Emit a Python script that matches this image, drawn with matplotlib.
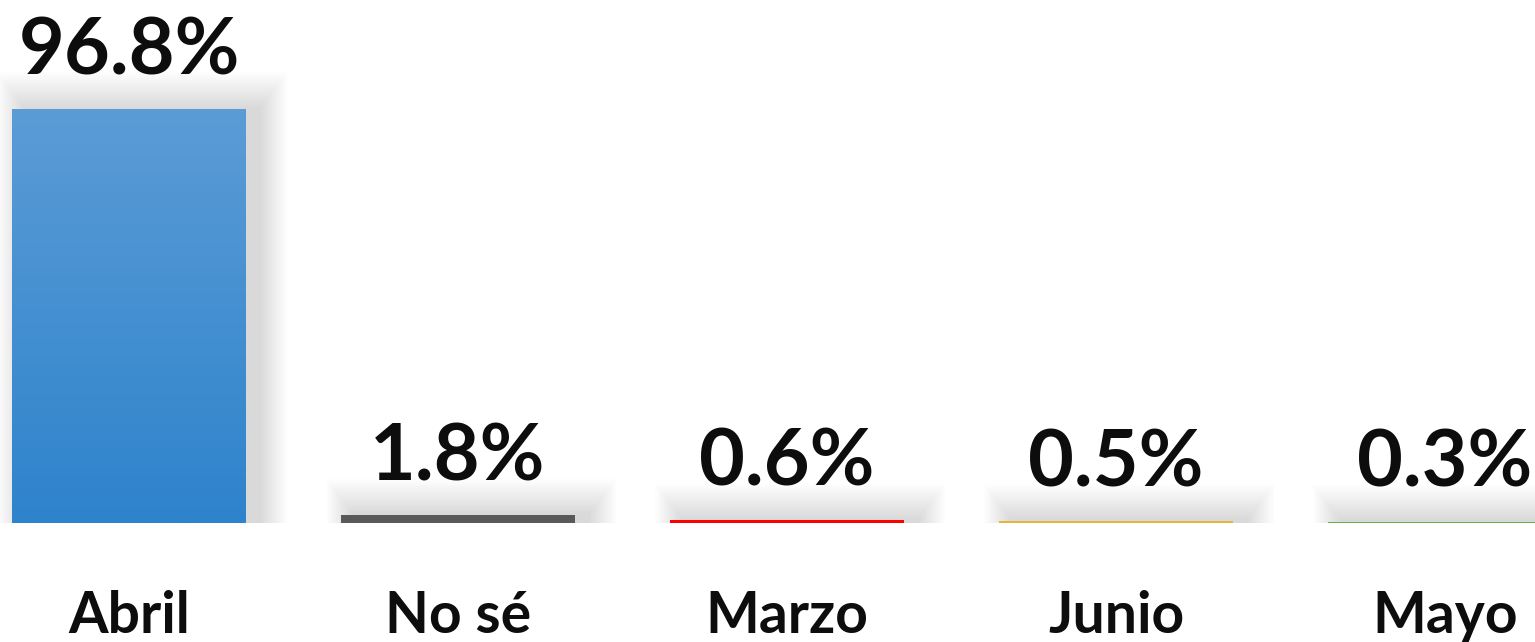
import numpy as np
import matplotlib.pyplot as plt
import matplotlib.transforms as mtransforms
from matplotlib.colors import LinearSegmentedColormap

plt.rcParams['font.family'] = ['Lato', 'DejaVu Sans']

# data
categories = ['Abril', 'No sé', 'Marzo', 'Junio', 'Mayo']
values = [96.8, 1.8, 0.6, 0.5, 0.3]
labels = ['96.8%', '1.8%', '0.6%', '0.5%', '0.3%']
colors = ['#4a90d4', '#595959', '#ff0000', '#e8b33a', '#70ad47']

fig = plt.figure(figsize=(15.35, 6.42), dpi=100)
ax = fig.add_axes([0, 119 / 642, 1, 523 / 642])
xlim = (-129 / 329, (1535 - 129) / 329)
ylim = (0, 96.8 * 523 / 414)
ax.axis('off')

x = np.arange(len(categories))
w = 0.711

# soft blurred shadow, shifted right
for i, v in enumerate(values):
    for k in range(1, 20):
        grow = k * 0.009
        ax.bar(x[i] + 0.04, v + k * 0.45, width=w + grow, bottom=0,
               color='black', alpha=0.008, linewidth=0, zorder=1)

bars = ax.bar(x, values, width=w, color=colors, linewidth=0, zorder=2)

# vertical gradient on the first bar
grad = LinearSegmentedColormap.from_list('g', ['#2e83cc', '#5b9cd6'])
b0 = bars[0]
ax.imshow(np.linspace(0, 1, 256).reshape(-1, 1), cmap=grad, aspect='auto',
          origin='lower', extent=[b0.get_x(), b0.get_x() + b0.get_width(), 0, b0.get_height()],
          zorder=3)
ax.set_xlim(*xlim)
ax.set_ylim(*ylim)

trans = mtransforms.blended_transform_factory(ax.transData, fig.transFigure)
for i, v in enumerate(values):
    ax.annotate(labels[i], (x[i], v), xytext=(0, 25), textcoords='offset points',
                ha='center', va='baseline', fontsize=57, fontweight='bold', color='#0d0d0d')
    ax.text(x[i], 9 / 642, categories[i], transform=trans,
            ha='center', va='baseline', fontsize=41, fontweight='bold', color='#0d0d0d')

fig.savefig('out.png', dpi=100)
